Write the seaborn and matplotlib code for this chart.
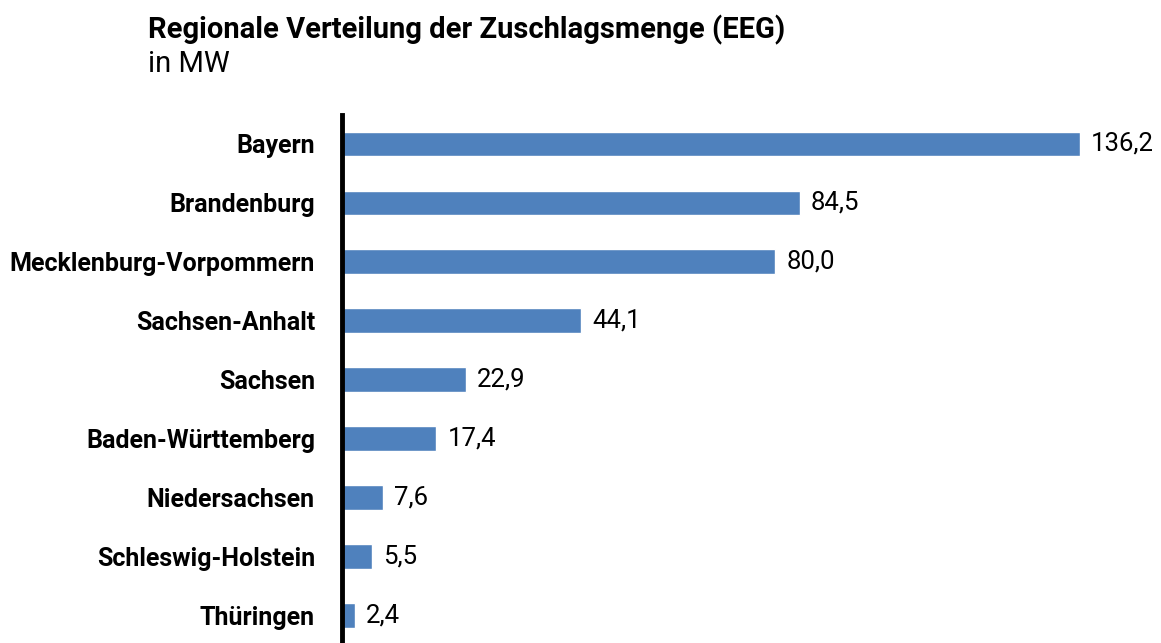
import matplotlib
matplotlib.use("Agg")
import matplotlib.pyplot as plt
import seaborn as sns
import pandas as pd

laender = ["Bayern", "Brandenburg", "Mecklenburg-Vorpommern", "Sachsen-Anhalt", "Sachsen",
           "Baden-Württemberg", "Niedersachsen", "Schleswig-Holstein", "Thüringen"]
mw = [136.2, 84.5, 80.0, 44.1, 22.9, 17.4, 7.6, 5.5, 2.4]

sns.set_theme(style="white")
plt.rcParams['font.family'] = ['Roboto', 'DejaVu Sans']

df = pd.DataFrame({"Land": laender, "MW": mw})

W, H = 1161, 643
fig = plt.figure(figsize=(W / 100, H / 100), dpi=100)
ax = fig.add_axes([342 / W, 0, (1080 - 342) / W, (643 - 114.5) / H])

sns.barplot(data=df, y="Land", x="MW", orient="h", color="#4F81BD", saturation=1,
            width=0.42, ax=ax)

ax.set_xlim(0, 136.2)
ax.set_ylim(8.47, -0.5)
ax.set_xlabel("")
ax.set_ylabel("")
ax.set_xticks([])
for s in ["top", "right", "bottom"]:
    ax.spines[s].set_visible(False)
ax.spines["left"].set_linewidth(3.5)
ax.spines["left"].set_color("black")
ax.tick_params(axis="y", length=0, pad=19.5)
for lbl in ax.get_yticklabels():
    lbl.set_fontweight("bold")
    lbl.set_fontsize(18)
    lbl.set_color("black")

for i, v in enumerate(mw):
    ax.annotate(f"{v:.1f}".replace(".", ","), (v, i), xytext=(8, 0), textcoords="offset points",
                va="center", ha="left", fontsize=18.5, color="black")

fig.text(148 / W, 1 - 30 / H, "Regionale Verteilung der Zuschlagsmenge (EEG)",
         fontsize=21, fontweight="bold", va="center", ha="left", color="black")
fig.text(148 / W, 1 - 64 / H, "in MW", fontsize=21, va="center", ha="left", color="black")

fig.savefig("out.png", dpi=100)
